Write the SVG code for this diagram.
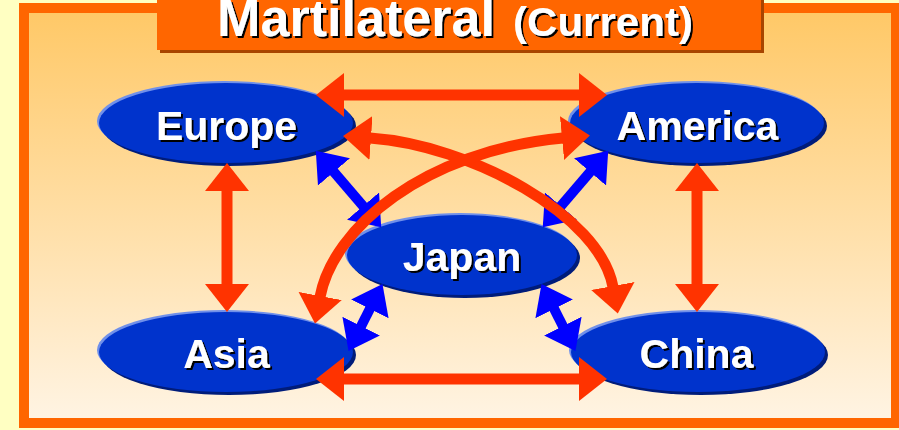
<svg xmlns="http://www.w3.org/2000/svg" width="899" height="430" viewBox="0 0 899 430">
  <defs>
    <linearGradient id="bg" x1="0" y1="0" x2="0" y2="1">
      <stop offset="0" stop-color="#FFC866"/>
      <stop offset="1" stop-color="#FFF4E4"/>
    </linearGradient>
    <filter id="ts" x="-10%" y="-20%" width="130%" height="150%">
      <feDropShadow dx="2" dy="2" stdDeviation="0.3" flood-color="#000000" flood-opacity="1"/>
    </filter>
    <marker id="rh" markerUnits="userSpaceOnUse" markerWidth="30" markerHeight="46" viewBox="0 -23 30 46" refX="1" refY="0" orient="auto-start-reverse">
      <path d="M0,-22 L28,0 L0,22 Z" fill="#FF3300"/>
    </marker>
    <marker id="bh" markerUnits="userSpaceOnUse" markerWidth="30" markerHeight="44" viewBox="0 -22 30 44" refX="1" refY="0" orient="auto-start-reverse">
      <path d="M0,-21 L28,0 L0,21 Z" fill="#0000FF"/>
    </marker>
  </defs>
  <style>
    .nodeTxt { font-family: "Liberation Sans", Arial, sans-serif; font-weight: bold; font-size: 41px; fill: #FFFFFF; text-anchor: middle; filter: url(#ts); }
    .title { font-family: "Liberation Sans", Arial, sans-serif; font-weight: bold; fill: #FFFFFF; filter: url(#ts); }
    .sh { fill: #001C7A; }
    .hl { fill: #7090EA; }
    .body { fill: #0033CC; }
    .red { stroke: #FF3300; stroke-width: 11; fill: none; marker-start: url(#rh); marker-end: url(#rh); }
    .blue { stroke: #0000FF; stroke-width: 10; fill: none; marker-start: url(#bh); marker-end: url(#bh); }
  </style>

  <rect x="0" y="0" width="899" height="430" fill="#FFFFC2"/>

  <g id="frame">
    <rect x="24" y="8" width="872" height="415" fill="url(#bg)" stroke="#FF6600" stroke-width="10"/>
  </g>

  <g id="title">
    <rect x="160" y="-5" width="604" height="58" fill="#A84500"/>
    <rect x="157" y="-5" width="604" height="55" fill="#FF6600"/>
    <text class="title" y="36"><tspan x="217" font-size="51" textLength="278" lengthAdjust="spacingAndGlyphs">Martilateral</tspan><tspan x="513" font-size="41" textLength="180" lengthAdjust="spacingAndGlyphs">(Current)</tspan></text>
  </g>

  <g id="europe">
    <ellipse class="sh" cx="229" cy="126" rx="127" ry="40"/>
    <ellipse class="hl" cx="224" cy="121" rx="127" ry="40"/>
    <ellipse class="body" cx="226" cy="123" rx="127" ry="40"/>
    <text class="nodeTxt" x="226.5" y="140">Europe</text>
  </g>
  <g id="america">
    <ellipse class="sh" cx="700" cy="126" rx="127" ry="40"/>
    <ellipse class="hl" cx="695" cy="121" rx="127" ry="40"/>
    <ellipse class="body" cx="697" cy="123" rx="127" ry="40"/>
    <text class="nodeTxt" x="697.5" y="140">America</text>
  </g>
  <g id="japan">
    <ellipse class="sh" cx="465" cy="258" rx="115" ry="40"/>
    <ellipse class="hl" cx="460" cy="253" rx="115" ry="40"/>
    <ellipse class="body" cx="462" cy="255" rx="115" ry="40"/>
    <text class="nodeTxt" x="462" y="271">Japan</text>
  </g>
  <g id="asia">
    <ellipse class="sh" cx="229" cy="355" rx="127" ry="40"/>
    <ellipse class="hl" cx="224" cy="350" rx="127" ry="40"/>
    <ellipse class="body" cx="226" cy="352" rx="127" ry="40"/>
    <text class="nodeTxt" x="226.5" y="368">Asia</text>
  </g>
  <g id="china">
    <ellipse class="sh" cx="701" cy="355" rx="127" ry="40"/>
    <ellipse class="hl" cx="696" cy="350" rx="127" ry="40"/>
    <ellipse class="body" cx="698" cy="352" rx="127" ry="40"/>
    <text class="nodeTxt" x="696.5" y="368">China</text>
  </g>

  <g id="connectors">
    <line class="blue" x1="333.3" y1="171.2" x2="363.7" y2="206.8"/>
    <line class="blue" x1="590.7" y1="171.2" x2="560.3" y2="206.8"/>
    <line class="blue" x1="370.3" y1="308" x2="360.7" y2="327"/>
    <line class="blue" x1="553.7" y1="308" x2="563.3" y2="327"/>
    <line class="red" x1="343" y1="95" x2="580" y2="95"/>
    <line class="red" x1="343" y1="379" x2="580" y2="379"/>
    <line class="red" x1="227" y1="190" x2="227" y2="285"/>
    <line class="red" x1="697" y1="190" x2="697" y2="285"/>
    <path class="red" d="M370,138 C470,145 600,215 613,287"/>
    <path class="red" d="M320,297 C333,228 424,151 563,138"/>
  </g>
</svg>
